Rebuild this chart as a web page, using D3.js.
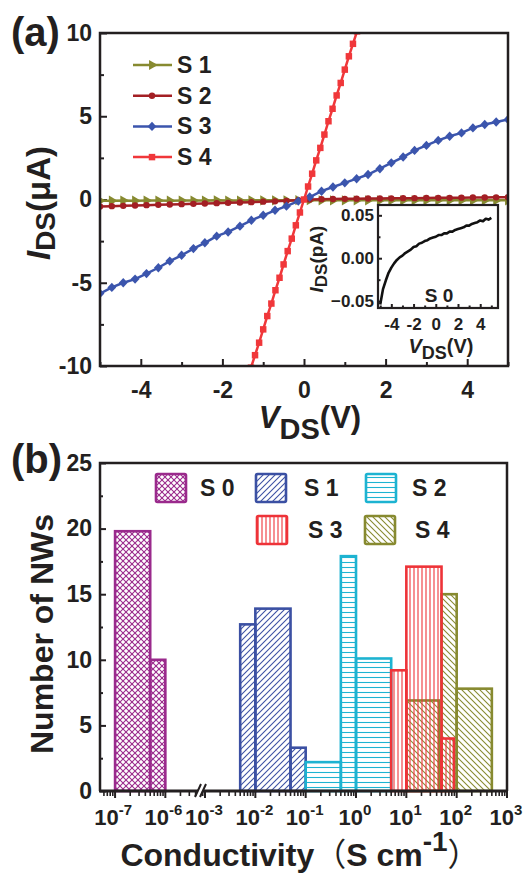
<!DOCTYPE html>
<html>
<head>
<meta charset="utf-8">
<script src="https://cdn.jsdelivr.net/npm/d3@7"></script>
<style>
body { margin: 0; background: #fff; }
text { font-family: "Liberation Sans", Arial, sans-serif; font-weight: bold; fill: #231f20; }
</style>
</head>
<body>
<div id="chart"></div>
<script>
// ---- panel (a): I-V curves ----
const vds = [-5, -4.71, -4.43, -4.14, -3.86, -3.57, -3.29, -3.00, -2.71, -2.43, -2.14, -1.86,
  -1.57, -1.29, -1.00, -0.71, -0.43, -0.14, 0.14, 0.43, 0.71, 1.00, 1.29, 1.57,
  1.86, 2.14, 2.43, 2.71, 3.00, 3.29, 3.57, 3.86, 4.14, 4.43, 4.71, 5];
const iS1 = [-0.07, -0.07, -0.06, -0.07, -0.06, -0.06, -0.07, -0.06, -0.06, -0.06, -0.05, -0.06,
  -0.06, -0.05, -0.05, -0.05, -0.05, -0.04, -0.04, -0.05, -0.05, -0.05, -0.05, -0.05,
  -0.05, -0.05, -0.05, -0.05, -0.05, -0.05, -0.05, -0.05, -0.05, -0.05, -0.05, -0.05];
const iS2 = [-0.42, -0.40, -0.38, -0.36, -0.34, -0.32, -0.30, -0.28, -0.26, -0.24, -0.22, -0.20,
  -0.18, -0.16, -0.13, -0.11, -0.08, -0.04, 0.00, 0.02, 0.03, 0.04, 0.05, 0.06,
  0.06, 0.07, 0.08, 0.08, 0.09, 0.10, 0.10, 0.11, 0.12, 0.12, 0.13, 0.14];
const iS3 = [-5.65, -5.28, -5.00, -4.78, -4.45, -4.10, -3.70, -3.35, -2.95, -2.60, -2.20, -1.95,
  -1.60, -1.25, -0.95, -0.65, -0.40, -0.10, 0.15, 0.50, 0.75, 1.00, 1.25, 1.50,
  1.85, 2.20, 2.55, 2.95, 3.25, 3.55, 3.80, 4.00, 4.30, 4.50, 4.65, 4.80];
const vdsS4 = [-1.4, -1.3, -1.2, -1.1, -1.0, -0.9, -0.8, -0.7, -0.6, -0.5, -0.4, -0.3, -0.2, -0.1, 0,
  0.1, 0.2, 0.3, 0.4, 0.5, 0.6, 0.7, 0.8, 0.9, 1.0, 1.1, 1.2, 1.3, 1.4];
const iS4 = [-10.9, -10.1, -9.35, -8.6, -7.8, -7.0, -6.25, -5.45, -4.7, -3.9, -3.1, -2.35, -1.55, -0.78, 0,
  0.78, 1.55, 2.35, 3.1, 3.9, 4.7, 5.45, 6.25, 7.0, 7.8, 8.6, 9.35, 10.1, 10.9];
// inset S0 (pA)
const vdsS0 = [-5, -4.75, -4.5, -4.25, -4, -3.75, -3.5, -3.25, -3, -2.75, -2.5, -2.25, -2, -1.75,
  -1.5, -1.25, -1, -0.75, -0.5, -0.25, 0, 0.25, 0.5, 0.75, 1, 1.25, 1.5, 1.75, 2, 2.25,
  2.5, 2.75, 3, 3.25, 3.5, 3.75, 4, 4.25, 4.5, 4.75, 5];
const iS0 = [-0.054, -0.036, -0.026, -0.017, -0.011, -0.006, -0.002, 0.001, 0.003, 0.006, 0.008, 0.010,
  0.013, 0.014, 0.017, 0.018, 0.020, 0.021, 0.023, 0.024, 0.025, 0.027, 0.027, 0.029, 0.029, 0.031,
  0.031, 0.033, 0.034, 0.035, 0.036, 0.038, 0.038, 0.040, 0.041, 0.042, 0.044, 0.043, 0.046, 0.045, 0.047];

// ---- panel (b): histogram of conductivity (bin edges in S/cm, counts) ----
const binsS0 = [[1e-7, 5e-7], [5e-7, 1e-6]];
const countS0 = [19.8, 10.0];
const binsS1 = [[0.005, 0.01], [0.01, 0.05], [0.05, 0.1]];
const countS1 = [12.7, 13.9, 3.3];
const binsS2 = [[0.1, 0.5], [0.5, 1], [1, 5]];
const countS2 = [2.2, 17.9, 10.1];
const binsS3 = [[5, 10], [10, 50], [50, 88]];
const countS3 = [9.2, 17.1, 4.0];
const binsS4 = [[10, 45], [50, 100], [100, 500]];
const countS4 = [6.9, 15.0, 7.8];
const yTicksB = [0, 5, 10, 15, 20, 25];
const xDecadesLow = [-7, -6];
const xDecadesHigh = [-3, -2, -1, 0, 1, 2, 3];

const W = 523, H = 875;
const svg = d3.select("#chart").append("svg")
  .attr("width", W).attr("height", H)
  .attr("viewBox", [0, 0, W, H]);

const defs = svg.append("defs");
function hatch(id, color, paths, size) {
  const p = defs.append("pattern")
    .attr("id", id)
    .attr("patternUnits", "userSpaceOnUse")
    .attr("width", size).attr("height", size);
  paths.forEach(d => p.append("path").attr("d", d).attr("stroke", color).attr("stroke-width", 1.1).attr("fill", "none"));
}
const cS0 = "#9a2a8c", cS1 = "#3b50a3", cS2 = "#1db3d1", cS3 = "#ee3338", cS4 = "#878a30";
hatch("pS0", cS0, ["M0,0L6,6", "M6,0L0,6", "M-1,5L1,7", "M5,-1L7,1", "M-1,1L1,-1", "M5,7L7,5"], 6);
hatch("pS1", cS1, ["M0,6L6,0", "M-1,1L1,-1", "M5,7L7,5"], 6);
hatch("pS2", cS2, ["M0,2.5L5,2.5"], 5);
hatch("pS3", cS3, ["M2,0L2,4"], 4);
hatch("pS4", cS4, ["M0,0L6,6", "M-1,5L1,7", "M5,-1L7,1"], 6);

// ===== panel (a) =====
const xA = d3.scaleLinear().domain([-5, 5]).range([100, 508]);
const yA = d3.scaleLinear().domain([-10, 10]).range([366, 33]);

svg.append("clipPath").attr("id", "clipA")
  .append("rect").attr("x", 100).attr("y", 33).attr("width", 408).attr("height", 333);

function styleAxis(g, size) {
  g.select(".domain").remove();
  g.selectAll("line").attr("stroke", "#231f20").attr("stroke-width", 2);
  g.selectAll("text").attr("font-size", size).attr("font-family", null).attr("fill", "#231f20");
}

svg.append("g").attr("transform", "translate(0,366)")
  .call(d3.axisBottom(xA).tickValues([-4, -2, 0, 2, 4]).tickSizeInner(-7).tickSizeOuter(0).tickPadding(16).tickFormat(d => String(d)))
  .call(g => styleAxis(g, 23));
svg.append("g").attr("transform", "translate(0,366)")
  .call(d3.axisBottom(xA).tickValues([-5, -3, -1, 1, 3, 5]).tickSizeInner(-4).tickSizeOuter(0).tickFormat(""))
  .call(g => styleAxis(g, 23));
svg.append("g").attr("transform", "translate(100,0)")
  .call(d3.axisLeft(yA).tickValues([-10, -5, 0, 5, 10]).tickSizeInner(-7).tickSizeOuter(0).tickPadding(8).tickFormat(d => String(d)))
  .call(g => styleAxis(g, 23));
svg.append("g").attr("transform", "translate(100,0)")
  .call(d3.axisLeft(yA).tickValues([-7.5, -2.5, 2.5, 7.5]).tickSizeInner(-4).tickSizeOuter(0).tickFormat(""))
  .call(g => styleAxis(g, 23));

const curves = [
  { name: "S 1", v: vds, i: iS1, color: "#878a30", sym: "tri" },
  { name: "S 2", v: vds, i: iS2, color: "#a31f24", sym: "circle" },
  { name: "S 3", v: vds, i: iS3, color: "#3b55ad", sym: "diamond" },
  { name: "S 4", v: vdsS4, i: iS4, color: "#f0373a", sym: "square" }
];
const symGen = {
  tri: d3.symbol(d3.symbolTriangle, 45),
  circle: d3.symbol(d3.symbolCircle, 32),
  diamond: d3.symbol(d3.symbolDiamond, 40),
  square: d3.symbol(d3.symbolSquare, 42)
};
function drawMarker(g, s, x, y) {
  g.append("path")
    .attr("d", symGen[s.sym]())
    .attr("fill", s.color)
    .attr("transform", `translate(${x},${y})` + (s.sym === "tri" ? " rotate(90)" : "") + (s.sym === "diamond" ? " scale(1.3,0.8)" : ""));
}

const plotA = svg.append("g").attr("clip-path", "url(#clipA)");
const lineA = d3.line().x(d => xA(d[0])).y(d => yA(d[1]));
curves.forEach(s => {
  const pts = s.v.map((v, k) => [v, s.i[k]]);
  plotA.append("path").datum(pts)
    .attr("d", lineA).attr("fill", "none")
    .attr("stroke", s.color).attr("stroke-width", 2.5);
  const mg = plotA.append("g");
  pts.forEach(p => drawMarker(mg, s, xA(p[0]), yA(p[1])));
});

svg.append("rect").attr("x", 100).attr("y", 33).attr("width", 408).attr("height", 333)
  .attr("fill", "none").attr("stroke", "#231f20").attr("stroke-width", 2.5);

// legend (a)
curves.forEach((s, k) => {
  const ly = 65 + k * 30.7;
  svg.append("line").attr("x1", 133).attr("x2", 172).attr("y1", ly).attr("y2", ly)
    .attr("stroke", s.color).attr("stroke-width", 2.5);
  drawMarker(svg, s, 152, ly);
  svg.append("text").attr("x", 177).attr("y", ly + 8).attr("font-size", 23).text(s.name);
});

// inset
const xI = d3.scaleLinear().domain([-5.2, 5.6]).range([378, 498]);
const yI = d3.scaleLinear().domain([-0.058, 0.062]).range([308, 205]);
svg.append("rect").attr("x", 378).attr("y", 205).attr("width", 120).attr("height", 103).attr("fill", "#fff");
svg.append("g").attr("transform", "translate(0,308)")
  .call(d3.axisBottom(xI).tickValues([-4, -2, 0, 2, 4]).tickSizeInner(-4).tickSizeOuter(0).tickPadding(10).tickFormat(d => String(d)))
  .call(g => styleAxis(g, 17));
svg.append("g").attr("transform", "translate(0,308)")
  .call(d3.axisBottom(xI).tickValues([-5, -3, -1, 1, 3, 5]).tickSizeInner(-2.5).tickSizeOuter(0).tickFormat(""))
  .call(g => styleAxis(g, 17));
svg.append("g").attr("transform", "translate(378,0)")
  .call(d3.axisLeft(yI).tickValues([-0.05, 0, 0.05]).tickSizeInner(-4).tickSizeOuter(0).tickPadding(4).tickFormat(d3.format(".2f")))
  .call(g => styleAxis(g, 17));
svg.append("g").attr("transform", "translate(378,0)")
  .call(d3.axisLeft(yI).tickValues([-0.025, 0.025]).tickSizeInner(-2.5).tickSizeOuter(0).tickFormat(""))
  .call(g => styleAxis(g, 17));
svg.append("path").datum(vdsS0.map((v, k) => [v, iS0[k]]))
  .attr("d", d3.line().x(d => xI(d[0])).y(d => yI(d[1])))
  .attr("fill", "none").attr("stroke", "#111").attr("stroke-width", 2.6).attr("stroke-linejoin", "round");
svg.append("rect").attr("x", 378).attr("y", 205).attr("width", 120).attr("height", 103)
  .attr("fill", "none").attr("stroke", "#231f20").attr("stroke-width", 2.2);
svg.append("text").attr("x", 439).attr("y", 302).attr("text-anchor", "middle").attr("font-size", 19).text("S 0");

// inset titles
const tIy = svg.append("text").attr("transform", "translate(323,259) rotate(-90)")
  .attr("text-anchor", "middle").attr("font-size", 19);
tIy.append("tspan").attr("font-style", "italic").text("I");
tIy.append("tspan").attr("font-size", 17).attr("dy", 4).text("DS");
tIy.append("tspan").attr("dy", -4).text("(pA)");
const tIx = svg.append("text").attr("x", 441).attr("y", 353)
  .attr("text-anchor", "middle").attr("font-size", 20);
tIx.append("tspan").attr("font-style", "italic").text("V");
tIx.append("tspan").attr("font-size", 18).attr("dy", 6).text("DS");
tIx.append("tspan").attr("dy", -6).text("(V)");

// axis titles (a)
const tAy = svg.append("text").attr("transform", "translate(50,203) rotate(-90)")
  .attr("text-anchor", "middle").attr("font-size", 33);
tAy.append("tspan").attr("font-style", "italic").text("I");
tAy.append("tspan").attr("font-size", 28).attr("dy", 5).text("DS");
tAy.append("tspan").attr("dy", -5).text("(μA)");
const tAx = svg.append("text").attr("x", 310).attr("y", 428)
  .attr("text-anchor", "middle").attr("font-size", 31);
tAx.append("tspan").attr("font-style", "italic").text("V");
tAx.append("tspan").attr("font-size", 29).attr("dy", 11).text("DS");
tAx.append("tspan").attr("dy", -11).text("(V)");

svg.append("text").attr("x", 11).attr("y", 46).attr("font-size", 40).text("(a)");

// ===== panel (b) =====
const yB = d3.scaleLinear().domain([0, 25]).range([791, 463]);
const xLow = d3.scaleLog().domain([Math.pow(10, -7.3), Math.pow(10, -5.35)]).range([100, 198]);
const xHigh = d3.scaleLog().domain([Math.pow(10, -3.06), 1000]).range([202, 507]);
const xB = c => (c < 1e-4 ? xLow(c) : xHigh(c));

const hist = [
  { bins: binsS0, counts: countS0, color: cS0, pat: "pS0" },
  { bins: binsS1, counts: countS1, color: cS1, pat: "pS1" },
  { bins: binsS2, counts: countS2, color: cS2, pat: "pS2" },
  { bins: binsS4, counts: countS4, color: cS4, pat: "pS4" },
  { bins: binsS3, counts: countS3, color: cS3, pat: "pS3" }
];
hist.forEach(h => {
  svg.append("g").selectAll("rect")
    .data(h.bins.map((b, k) => ({ lo: b[0], hi: b[1], n: h.counts[k] })))
    .join("rect")
    .attr("x", d => xB(d.lo))
    .attr("width", d => xB(d.hi) - xB(d.lo))
    .attr("y", d => yB(d.n))
    .attr("height", d => yB(0) - yB(d.n))
    .attr("fill", `url(#${h.pat})`)
    .attr("stroke", h.color).attr("stroke-width", 2.6);
});

// y axis (b)
svg.append("g").attr("transform", "translate(100,0)")
  .call(d3.axisLeft(yB).tickValues(yTicksB).tickSizeInner(-6).tickSizeOuter(0).tickPadding(8))
  .call(g => styleAxis(g, 23));
svg.append("g").attr("transform", "translate(100,0)")
  .call(d3.axisLeft(yB).tickValues([2.5, 7.5, 12.5, 17.5, 22.5]).tickSizeInner(-3).tickSizeOuter(0).tickFormat(""))
  .call(g => styleAxis(g, 23));

// frame (b): top, left, right and broken bottom
svg.append("path")
  .attr("d", `M100,791V463H507V791`)
  .attr("fill", "none").attr("stroke", "#231f20").attr("stroke-width", 2.5);
svg.append("line").attr("x1", 99).attr("x2", 198).attr("y1", 791).attr("y2", 791)
  .attr("stroke", "#231f20").attr("stroke-width", 2.8);
svg.append("line").attr("x1", 203).attr("x2", 508).attr("y1", 791).attr("y2", 791)
  .attr("stroke", "#231f20").attr("stroke-width", 2.8);
svg.append("path").attr("d", "M195,797L201,784M200,797L206,784")
  .attr("stroke", "#231f20").attr("stroke-width", 2);

// log ticks (b)
function logTicks(scale, decades) {
  const dom = scale.domain();
  const major = [], minor = [];
  decades.forEach(d => {
    const base = Math.pow(10, d);
    if (base >= dom[0] * 0.999 && base <= dom[1] * 1.001) major.push(base);
    for (let k = 2; k <= 9; k++) {
      const v = k * base;
      if (v >= dom[0] && v <= dom[1]) minor.push(v);
    }
  });
  return { major, minor };
}
[[xLow, [-8, -7, -6]], [xHigh, [-4, -3, -2, -1, 0, 1, 2, 3]]].forEach(([sc, decs]) => {
  const t = logTicks(sc, decs);
  svg.append("g").selectAll("line").data(t.major).join("line")
    .attr("x1", d => sc(d)).attr("x2", d => sc(d)).attr("y1", 791).attr("y2", 798)
    .attr("stroke", "#231f20").attr("stroke-width", 2);
  svg.append("g").selectAll("line").data(t.minor).join("line")
    .attr("x1", d => sc(d)).attr("x2", d => sc(d)).attr("y1", 791).attr("y2", 796)
    .attr("stroke", "#231f20").attr("stroke-width", 1.6);
});

function decadeLabel(x, e) {
  const t = svg.append("text").attr("x", x).attr("y", 825)
    .attr("text-anchor", "middle").attr("font-size", 22);
  t.append("tspan").text("10");
  t.append("tspan").attr("font-size", 15).attr("dy", -10).text(String(e));
}
xDecadesLow.forEach(e => decadeLabel(xLow(Math.pow(10, e)) - 2, e));
xDecadesHigh.forEach(e => decadeLabel(xHigh(Math.pow(10, e)) - 1, e));

// legend (b)
const legB = [
  { name: "S 0", pat: "pS0", color: cS0, x: 156, y: 474, tx: 200 },
  { name: "S 1", pat: "pS1", color: cS1, x: 256, y: 474, tx: 304 },
  { name: "S 2", pat: "pS2", color: cS2, x: 366, y: 474, tx: 412 },
  { name: "S 3", pat: "pS3", color: cS3, x: 257, y: 516, tx: 308 },
  { name: "S 4", pat: "pS4", color: cS4, x: 365, y: 516, tx: 415 }
];
legB.forEach(l => {
  svg.append("rect").attr("x", l.x).attr("y", l.y).attr("width", 30).attr("height", 28)
    .attr("rx", 1.5).attr("fill", `url(#${l.pat})`).attr("stroke", l.color).attr("stroke-width", 2.6);
  svg.append("text").attr("x", l.tx).attr("y", l.y + 22).attr("font-size", 23).text(l.name);
});

// axis titles (b)
svg.append("text").attr("transform", "translate(53,634) rotate(-90)")
  .attr("text-anchor", "middle").attr("font-size", 32).text("Number of NWs");
const tBx = svg.append("text").attr("x", 300).attr("y", 866)
  .attr("text-anchor", "middle").attr("font-size", 32);
tBx.append("tspan").text("Conductivity");
tBx.append("tspan").attr("font-family", "'Noto Sans CJK SC'").attr("font-weight", "normal").text("（");
tBx.append("tspan").text("S cm");
tBx.append("tspan").attr("font-size", 28).attr("dy", -15).text("-1");
tBx.append("tspan").attr("dy", 15).attr("font-family", "'Noto Sans CJK SC'").attr("font-weight", "normal").text("）");

svg.append("text").attr("x", 11).attr("y", 473).attr("font-size", 40).text("(b)");
</script>
</body>
</html>
